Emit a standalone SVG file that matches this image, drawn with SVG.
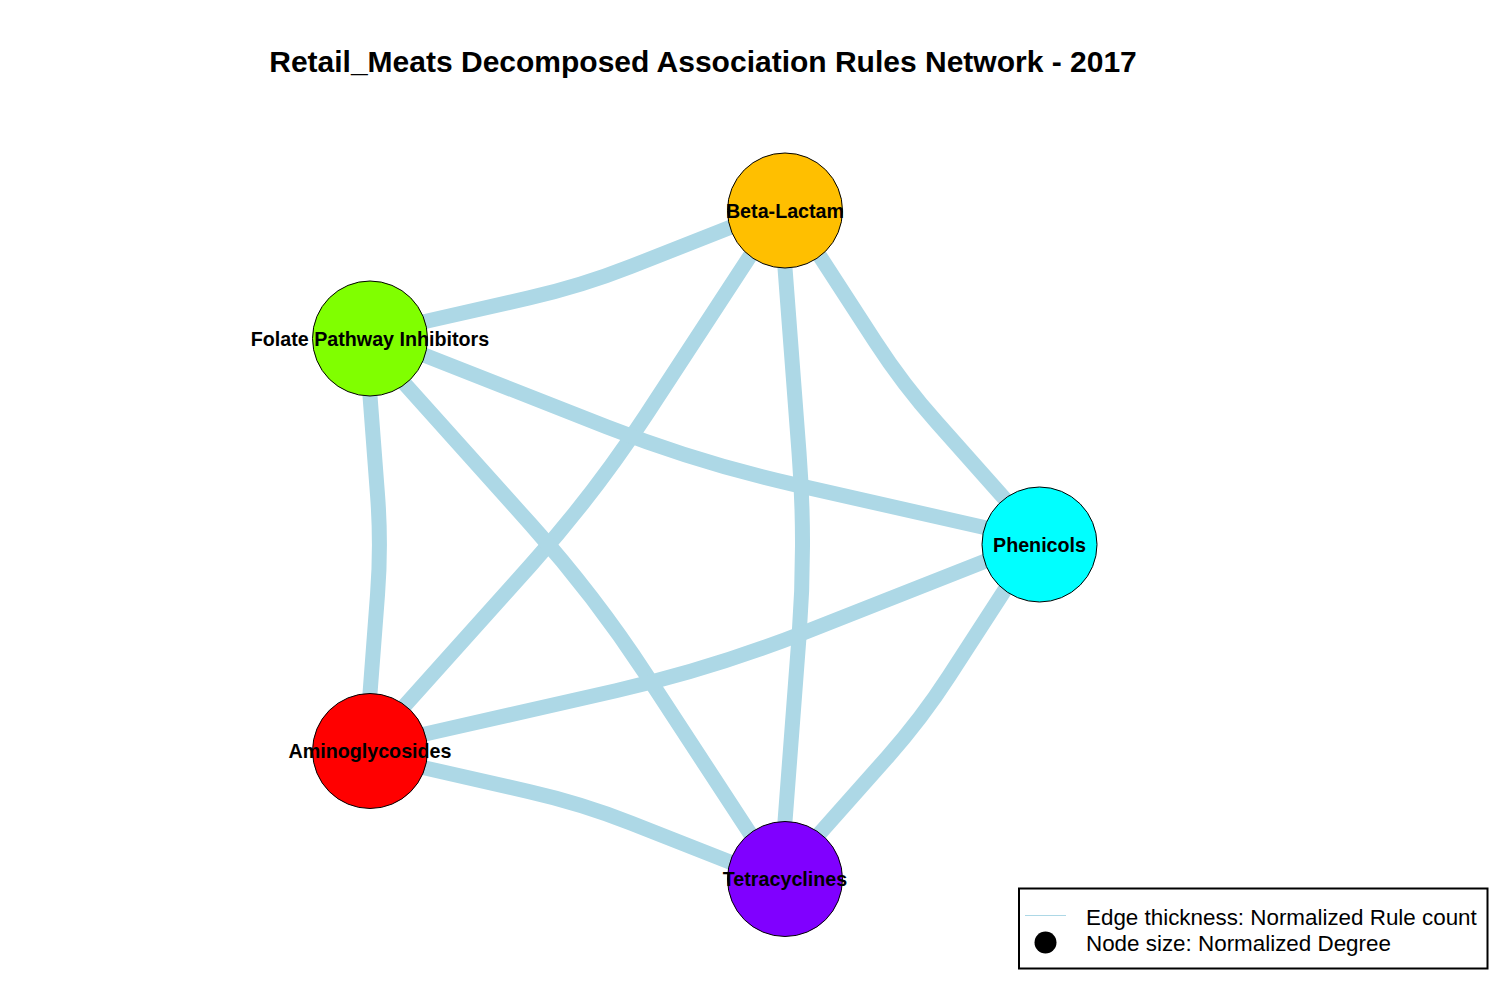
<svg xmlns="http://www.w3.org/2000/svg" width="1500" height="1000" viewBox="0 0 1500 1000">
<style>
.edge{fill:none;stroke:#ADD8E6;stroke-width:15;stroke-linecap:butt;stroke-linejoin:round}
.node{stroke:#000;stroke-width:1}
.lbl{font-family:"Liberation Sans",Arial,sans-serif;font-weight:bold;font-size:19.7px;fill:#000;text-anchor:middle}
.title{font-family:"Liberation Sans",Arial,sans-serif;font-weight:bold;font-size:30px;fill:#000;text-anchor:middle}
.leg{font-family:"Liberation Sans",Arial,sans-serif;font-size:22.4px;fill:#000}
</style>
<rect width="1500" height="1000" fill="#fff"/>
<text class="title" x="703" y="72">Retail_Meats Decomposed Association Rules Network - 2017</text>
<g id="edges">
<path class="edge" d="M739.36,223.79 L630.74,266.54 Q581.08,286.09 529.04,297.91 L415.2,323.77"/>
<path class="edge" d="M1011.3,506.23 L936.92,422.59 Q903.05,384.51 875.32,341.75 L814.41,247.85"/>
<path class="edge" d="M784.24,258.03 L799.02,452.5 Q806.03,544.75 799.02,637 L784.24,831.47"/>
<path class="edge" d="M755.45,247.74 L646.37,414.61 Q594.57,493.86 531.39,564.37 L398.35,712.84"/>
<path class="edge" d="M369.24,386.03 L377.54,495.17 Q381.31,544.75 377.54,594.33 L369.24,703.47"/>
<path class="edge" d="M994.29,529.8 L793.65,484.38 Q698.21,462.77 607.13,426.98 L415.65,351.75"/>
<path class="edge" d="M398.35,376.66 L531.39,525.13 Q594.57,595.64 646.37,674.89 L755.45,841.76"/>
<path class="edge" d="M993.86,557.79 L802.39,633.16 Q711.31,669.01 615.86,690.69 L415.2,736.27"/>
<path class="edge" d="M1010.12,581.87 L949.21,675.93 Q921.48,718.77 887.59,756.93 L813.18,840.72"/>
<path class="edge" d="M415.2,765.74 L529.04,791.59 Q581.08,803.41 630.74,822.96 L739.36,865.71"/>
</g>
<g id="node-beta-lactam">
<circle class="node" cx="785" cy="210.5" r="57.5" fill="#FFBF00"/>
<text class="lbl" x="785" y="217.5">Beta-Lactam</text>
</g>
<g id="node-folate">
<circle class="node" cx="370" cy="338.5" r="57.5" fill="#80FF00"/>
<text class="lbl" x="370" y="345.5">Folate Pathway Inhibitors</text>
</g>
<g id="node-phenicols">
<circle class="node" cx="1039.5" cy="544.5" r="57.5" fill="#00FFFF"/>
<text class="lbl" x="1039.5" y="551.5">Phenicols</text>
</g>
<g id="node-aminoglycosides">
<circle class="node" cx="370" cy="751" r="57.5" fill="#FF0000"/>
<text class="lbl" x="370" y="758">Aminoglycosides</text>
</g>
<g id="node-tetracyclines">
<circle class="node" cx="785" cy="879" r="57.5" fill="#8000FF"/>
<text class="lbl" x="785" y="886">Tetracyclines</text>
</g>
<g id="legend">
<rect x="1019" y="888.5" width="468.5" height="80" fill="#fff" stroke="#000" stroke-width="2"/>
<line x1="1025" y1="915.5" x2="1066" y2="915.5" stroke="#ADD8E6" stroke-width="1"/>
<circle cx="1045.5" cy="942.5" r="11" fill="#000"/>
<text class="leg" x="1086" y="924.5">Edge thickness: Normalized Rule count</text>
<text class="leg" x="1086" y="951">Node size: Normalized Degree</text>
</g>
</svg>
